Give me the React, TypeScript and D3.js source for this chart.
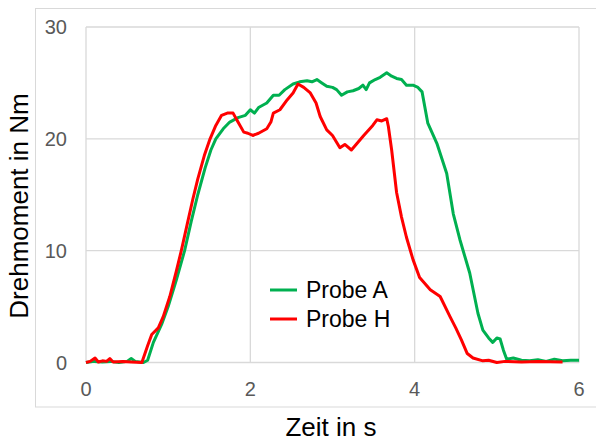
import React from "react";
import * as d3 from "d3";

const timeA = [0, 0.1, 0.2, 0.3, 0.4, 0.5, 0.55, 0.6, 0.7, 0.75, 0.82, 0.92, 1.0, 1.1, 1.2, 1.28, 1.36, 1.45, 1.52, 1.58, 1.67, 1.75, 1.85, 1.94, 2.0, 2.05, 2.1, 2.2, 2.28, 2.35, 2.42, 2.52, 2.6, 2.69, 2.75, 2.81, 2.87, 2.93, 3.0, 3.05, 3.11, 3.18, 3.25, 3.32, 3.37, 3.41, 3.45, 3.52, 3.58, 3.66, 3.72, 3.78, 3.84, 3.9, 3.98, 4.04, 4.09, 4.16, 4.27, 4.39, 4.47, 4.55, 4.67, 4.77, 4.83, 4.9, 4.95, 5.0, 5.04, 5.08, 5.12, 5.2, 5.3, 5.4, 5.5, 5.6, 5.7, 5.8, 5.9, 6.0];
const valuesA = [0, 0.1, 0.05, 0.1, 0, 0.1, 0.35, 0.1, 0, 0.2, 1.8, 3.4, 5.0, 7.4, 10.0, 12.6, 15.0, 17.4, 19.0, 20.0, 20.9, 21.5, 21.9, 22.1, 22.6, 22.3, 22.8, 23.2, 23.9, 23.9, 24.4, 24.9, 25.1, 25.2, 25.1, 25.3, 25.0, 24.7, 24.6, 24.4, 23.9, 24.2, 24.3, 24.5, 24.8, 24.4, 25.0, 25.3, 25.5, 25.9, 25.6, 25.4, 25.3, 24.8, 24.8, 24.6, 24.2, 21.4, 19.6, 16.9, 13.3, 11.0, 8.0, 4.4, 2.9, 2.2, 1.8, 2.2, 2.1, 1.1, 0.3, 0.4, 0.2, 0.15, 0.25, 0.1, 0.3, 0.15, 0.2, 0.2];

const timeH = [0, 0.05, 0.11, 0.15, 0.2, 0.25, 0.29, 0.33, 0.45, 0.55, 0.68, 0.75, 0.8, 0.88, 0.94, 1.02, 1.1, 1.16, 1.23, 1.3, 1.36, 1.44, 1.51, 1.58, 1.65, 1.72, 1.79, 1.85, 1.92, 1.97, 2.03, 2.1, 2.2, 2.25, 2.28, 2.36, 2.45, 2.52, 2.58, 2.65, 2.73, 2.8, 2.85, 2.93, 3.0, 3.09, 3.15, 3.23, 3.3, 3.38, 3.49, 3.54, 3.6, 3.66, 3.68, 3.72, 3.78, 3.84, 3.9, 3.98, 4.06, 4.19, 4.31, 4.43, 4.5, 4.57, 4.64, 4.71, 4.83, 4.9, 5.0, 5.1, 5.3, 5.5, 5.8];
const valuesH = [0, 0.1, 0.4, 0.05, 0.15, 0.1, 0.35, 0.05, 0.1, 0.05, 0, 1.5, 2.5, 3.1, 4.1, 5.9, 8.2, 10.0, 12.3, 14.6, 16.4, 18.5, 20.0, 21.2, 22.1, 22.3, 22.3, 21.5, 20.6, 20.5, 20.3, 20.5, 20.9, 21.5, 22.3, 22.6, 23.5, 24.1, 24.9, 24.6, 24.1, 23.2, 22.0, 20.8, 20.3, 19.2, 19.5, 19.0, 19.6, 20.3, 21.2, 21.7, 21.6, 21.8, 21.1, 19.0, 15.2, 13.0, 11.2, 9.2, 7.6, 6.5, 5.9, 4.1, 3.1, 2.0, 0.8, 0.4, 0.15, 0.2, 0, 0.1, 0.05, 0.1, 0.05];

const xTicks = [0, 2, 4, 6];
const yTicks = [0, 10, 20, 30];
const seriesNames = ["Probe A", "Probe H"];
const seriesColors = ["#00b050", "#ff0000"];

export default function App() {
  const W = 596, H = 441;
  const x = d3.scaleLinear().domain([0, 6]).range([86, 579]);
  const y = d3.scaleLinear().domain([0, 30]).range([362.5, 27]);
  const line = d3.line<[number, number]>().x(d => x(d[0])).y(d => y(d[1]));
  const dataA = timeA.map((t, i) => [t, valuesA[i]] as [number, number]);
  const dataH = timeH.map((t, i) => [t, valuesH[i]] as [number, number]);
  const font = "'Liberation Sans', Arial, sans-serif";
  return (
    <svg width={W} height={H} style={{ position: "absolute", left: 0, top: 0, background: "#fff" }} fontFamily={font}>
      <rect x={35.5} y={8.5} width={600} height={398.5} fill="#fff" stroke="#d9d9d9" strokeWidth={1} />
      {xTicks.map(t => (
        <line key={"gx" + t} x1={x(t)} x2={x(t)} y1={y(0)} y2={y(30)} stroke="#d9d9d9" strokeWidth={1.3} />
      ))}
      {yTicks.map(v => (
        <line key={"gy" + v} x1={x(0)} x2={x(6)} y1={y(v)} y2={y(v)} stroke="#d9d9d9" strokeWidth={1.3} />
      ))}
      {yTicks.map(v => (
        <text key={"ty" + v} x={67} y={y(v)} dy="0.35em" textAnchor="end" fontSize={20} fill="#595959">{v}</text>
      ))}
      {xTicks.map(t => (
        <text key={"tx" + t} x={x(t)} y={396} textAnchor="middle" fontSize={20} fill="#595959">{t}</text>
      ))}
      <path d={line(dataA) || ""} fill="none" stroke={seriesColors[0]} strokeWidth={3} strokeLinejoin="round" />
      <path d={line(dataH) || ""} fill="none" stroke={seriesColors[1]} strokeWidth={3} strokeLinejoin="round" />
      {seriesNames.map((n, i) => (
        <g key={n}>
          <line x1={270} x2={297} y1={290 + i * 29} y2={290 + i * 29} stroke={seriesColors[i]} strokeWidth={3} />
          <text x={306} y={290 + i * 29} dy="0.36em" fontSize={23} fill="#000">{n}</text>
        </g>
      ))}
      <text x={331} y={436} textAnchor="middle" fontSize={26} fill="#000">Zeit in s</text>
      <text transform={`translate(28,206) rotate(-90)`} textAnchor="middle" fontSize={26} fill="#000">Drehmoment in Nm</text>
    </svg>
  );
}
